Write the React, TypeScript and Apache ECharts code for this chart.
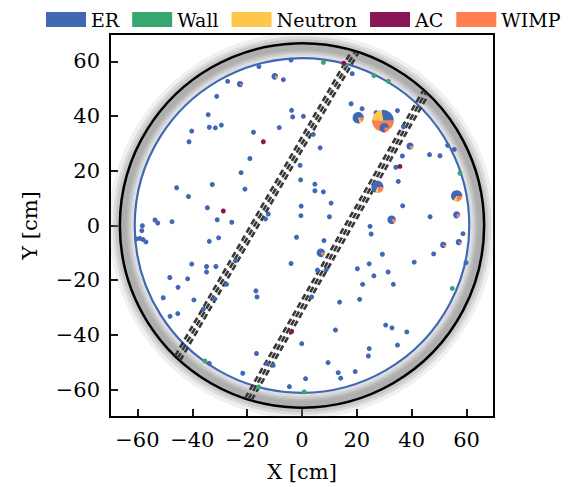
import React, { useEffect, useRef } from "react";
import * as echarts from "echarts";

// ---------- data ----------
const legendNames = ["ER", "Wall", "Neutron", "AC", "WIMP"];
const xTicks = [-60, -40, -20, 0, 20, 40, 60];
const yTicks = [-60, -40, -20, 0, 20, 40, 60];

const tpcRadius = 66.4;
const fiducialRadius = 61.0;

// perpendicular wires: angle (deg) and distance of each group from centre (cm)
const wireAngleDeg = 60;
const wireGroupOffsets = [15.0, -14.8];
const wireSubOffsets = [-1.2, 0, 1.2];

// wall-event cloud (read as radial layers, cm)
const bandInner = [60.6, 61.6, 62.5, 63.3, 64.0];
const bandOuter = [70.4, 69.0, 68.0, 67.0, 66.3];

const erPoints = [
  [-6.8, 53.3], [-27.1, 52.7], [-4.0, 60.5], [-15.7, 58.1], [-31.1, 47.2], [-3.8, 42.1], [-3.4, 39.7],
  [0.5, 39.9], [-34.2, 40.5], [-40.2, 34.5], [-33.8, 35.9], [-31.6, 35.7], [-29.4, 36.7], [-41.2, 30.6],
  [-17.7, 34.1], [-8.3, 35.8], [-19.0, 24.5], [-22.2, 19.3], [-0.7, 22.0], [-0.5, 16.7], [-32.7, 15.0],
  [-45.7, 13.8], [-20.8, 13.3], [-41.4, 10.6], [-34.5, 6.5], [-30.9, 2.1], [-25.6, 1.2], [-47.4, 1.4],
  [-53.6, 2.0], [-52.6, 0.9], [-58.2, -0.1], [-0.3, 7.1], [-0.4, 3.6], [-12.3, 4.2], [-13.3, 2.4],
  [-58.4, -1.9], [-60.3, -4.9], [-59.1, -4.7], [-58.0, -5.1], [-56.9, -6.0], [-33.8, -5.8], [-30.4, -4.5],
  [-2.0, -4.3], [-24.3, -12.9], [-4.0, -13.9], [-40.2, -14.1], [-34.8, -15.0], [-31.4, -15.0], [-34.8, -17.0],
  [-48.2, -19.0], [-41.7, -19.5], [-27.5, -21.5], [-45.2, -22.6], [-16.8, -23.9], [-16.4, -26.1], [-50.6, -26.4],
  [-39.4, -27.2], [-32.0, -26.7], [-36.0, -30.6], [-48.1, -33.2], [-45.3, -32.2], [-0.1, -43.2], [-16.6, -46.8],
  [-12.7, -50.5], [-10.5, -51.1], [-21.6, -54.0], [-4.6, -58.9], [-33.8, -50.4],
  [18.3, 55.5], [17.9, 44.5], [21.9, 42.7], [34.8, 42.0], [27.0, 41.2], [4.1, 33.3], [37.0, 36.1],
  [6.6, 28.4], [36.6, 25.4], [53.1, 29.3], [55.5, 27.8], [46.5, 25.9], [50.3, 25.5], [34.2, 21.3],
  [35.1, 16.1], [4.7, 15.1], [4.7, 12.7], [7.8, 12.3], [10.6, 8.2], [36.7, 7.2], [10.0, 3.2], [46.7, 3.2],
  [24.8, -0.3], [25.2, -3.1], [8.0, -5.5], [29.3, -10.5], [48.0, -10.4], [58.7, -3.0], [59.8, -13.6],
  [40.9, -13.4], [24.5, -14.0], [20.2, -15.8], [31.4, -17.0], [5.6, -16.3], [8.8, -16.2], [26.2, -18.4],
  [22.1, -21.5], [33.3, -21.5], [3.5, -26.1], [21.0, -27.0], [13.7, -28.0], [30.5, -36.4], [32.8, -37.4],
  [38.2, -38.9], [12.2, -38.2], [34.8, -43.7], [24.5, -45.0], [24.2, -47.7], [9.5, -50.1], [13.2, -53.8],
  [19.4, -53.4], [14.1, -55.8], [1.3, -56.0],
];

const wallPoints = [
  [7.8, 59.6], [15.7, 58.7], [26.2, 54.8], [31.5, 52.7], [57.6, 19.1], [54.8, -23.0],
  [-15.8, -59.0], [0.8, -60.8], [-35.4, -49.5],
];

const acPoints = [[-14.1, 30.6], [-28.7, 5.3], [35.7, 21.6], [-3.8, -38.8], [15.2, 59.3]];

// events with mixed classification (pie markers)
const pieX = [29.5, 30.0, 20.5, 27.5, 56.4, 32.7, 6.9, 56.4, 39.4, -9.9, 51.5, 57.2, -22.6];
const pieY = [38.3, 35.7, 39.4, 14.1, 10.8, 2.1, -10.0, 3.9, 29.0, 54.5, -7.1, -6.1, 51.7];
const pieER = [0.27, 0.78, 0.8, 0.7, 0.65, 0.85, 0.85, 0.8, 0.8, 0.85, 0.85, 0.85, 0.9];
const pieNeutron = [0.22, 0.0, 0.07, 0.08, 0.1, 0.0, 0.0, 0.0, 0.0, 0.05, 0.0, 0.0, 0.0];
const pieWIMP = [0.51, 0.22, 0.13, 0.22, 0.25, 0.15, 0.15, 0.2, 0.2, 0.1, 0.15, 0.15, 0.1];
const pieWeight = [19, 3.6, 5.2, 6, 5.2, 3, 3, 2.1, 2.1, 1.8, 1.6, 1.6, 1.6];

// ---------- styles ----------
const COLORS: Record<string, string> = {
  ER: "#4268b4",
  Wall: "#37a76f",
  Neutron: "#ffc64c",
  AC: "#8a1755",
  WIMP: "#ff7f4e",
};
const FONT = "DejaVu Serif";
const DOT = 5;

const minus = (v: number) => String(v).replace("-", "\u2212");

export default function App() {
  const ref = useRef<HTMLDivElement>(null);

  useEffect(() => {
    if (!ref.current) return;
    const chart = echarts.init(ref.current, undefined, { renderer: "svg" });

    const th = (wireAngleDeg * Math.PI) / 180;
    const dir = [Math.cos(th), Math.sin(th)];
    const nrm = [-Math.sin(th), Math.cos(th)];
    const wireData: number[][] = [];
    wireGroupOffsets.forEach((d0) => {
      wireSubOffsets.forEach((s) => {
        const d = d0 + s;
        const L = Math.sqrt(tpcRadius * tpcRadius - d * d);
        const c = [nrm[0] * d, nrm[1] * d];
        wireData.push([c[0] - dir[0] * L, c[1] - dir[1] * L, c[0] + dir[0] * L, c[1] + dir[1] * L]);
      });
    });

    const bandAlpha = [0.12, 0.18, 0.22, 0.25, 0.2];

    const pieData = pieX.map((x, i) => [x, pieY[i], pieER[i], pieNeutron[i], pieWIMP[i], pieWeight[i]]);

    const scatterBase = { type: "scatter", z: 4, symbolSize: DOT };

    chart.setOption({
      animation: false,
      textStyle: { fontFamily: FONT },
      legend: {
        data: legendNames,
        top: 10,
        left: 46,
        width: 523,
        padding: 0,
        icon: "rect",
        itemWidth: 40,
        itemHeight: 15,
        itemGap: 13,
        selectedMode: false,
        textStyle: { fontFamily: FONT, fontSize: 19, color: "#000" },
      },
      grid: {
        left: 110,
        top: 34,
        width: 384,
        height: 385,
        show: true,
        borderColor: "#000",
        borderWidth: 2,
        backgroundColor: "transparent",
      },
      xAxis: {
        type: "value",
        min: -70,
        max: 70,
        name: "X [cm]",
        nameLocation: "middle",
        nameGap: 44,
        nameTextStyle: { fontFamily: FONT, fontSize: 21, color: "#000" },
        axisLine: { show: true, onZero: false, lineStyle: { color: "#000", width: 2 } },
        axisTick: { show: true, inside: true, length: 8, lineStyle: { color: "#000", width: 1.8 }, customValues: xTicks },
        axisLabel: { customValues: xTicks, formatter: minus, fontFamily: FONT, fontSize: 21, color: "#000", margin: 12 },
        splitLine: { show: false },
      },
      yAxis: {
        type: "value",
        min: -70,
        max: 70,
        name: "Y [cm]",
        nameLocation: "middle",
        nameGap: 70,
        nameTextStyle: { fontFamily: FONT, fontSize: 21, color: "#000" },
        axisLine: { show: true, onZero: false, lineStyle: { color: "#000", width: 2 } },
        axisTick: { show: true, inside: true, length: 8, lineStyle: { color: "#000", width: 1.8 }, customValues: yTicks },
        axisLabel: { customValues: yTicks, formatter: minus, fontFamily: FONT, fontSize: 21, color: "#000", margin: 10 },
        splitLine: { show: false },
      },
      series: [
        {
          type: "custom",
          name: "band",
          clip: true,
          silent: true,
          z: 1,
          encode: { x: 0, y: 1 },
          data: bandInner.map((r0, i) => [0, 0, r0, bandOuter[i], i]),
          renderItem: (_p: any, api: any) => {
            const c = api.coord([api.value(0), api.value(1)]);
            const r0 = api.size([api.value(2), 0])[0];
            const r = api.size([api.value(3), 0])[0];
            return {
              type: "ring",
              shape: { cx: c[0], cy: c[1], r, r0 },
              style: { fill: `rgba(135,135,135,${bandAlpha[api.value(4)]})` },
            };
          },
        },
        {
          type: "custom",
          name: "circles",
          silent: true,
          z: 2,
          encode: { x: 0, y: 1 },
          data: [[0, 0, tpcRadius, 0], [0, 0, fiducialRadius, 1]],
          renderItem: (_p: any, api: any) => {
            const c = api.coord([api.value(0), api.value(1)]);
            const r = api.size([api.value(2), 0])[0];
            const blue = api.value(3) === 1;
            return {
              type: "circle",
              shape: { cx: c[0], cy: c[1], r },
              style: { fill: "none", stroke: blue ? COLORS.ER : "#000", lineWidth: blue ? 2.2 : 2.5 },
            };
          },
        },
        {
          type: "custom",
          name: "wires",
          silent: true,
          z: 3,
          encode: { x: [0, 2], y: [1, 3] },
          data: wireData,
          renderItem: (_p: any, api: any) => {
            const a = api.coord([api.value(0), api.value(1)]);
            const b = api.coord([api.value(2), api.value(3)]);
            return {
              type: "line",
              shape: { x1: a[0], y1: a[1], x2: b[0], y2: b[1] },
              style: { stroke: "#383838", lineWidth: 2.6, lineDash: [6, 3.5] },
            };
          },
        },
        { ...scatterBase, name: "ER", itemStyle: { color: COLORS.ER, opacity: 1 }, data: erPoints },
        { ...scatterBase, name: "Wall", itemStyle: { color: COLORS.Wall, opacity: 1 }, data: wallPoints },
        { ...scatterBase, name: "Neutron", itemStyle: { color: COLORS.Neutron, opacity: 1 }, data: [] },
        { ...scatterBase, name: "AC", itemStyle: { color: COLORS.AC, opacity: 1 }, data: acPoints },
        { ...scatterBase, name: "WIMP", itemStyle: { color: COLORS.WIMP, opacity: 1 }, data: [] },
        {
          type: "custom",
          name: "pies",
          z: 5,
          encode: { x: 0, y: 1 },
          data: pieData,
          renderItem: (_p: any, api: any) => {
            const c = api.coord([api.value(0), api.value(1)]);
            const parts = [
              [api.value(2), COLORS.ER],
              [api.value(3), COLORS.Neutron],
              [api.value(4), COLORS.WIMP],
            ] as [number, string][];
            const total = parts.reduce((s, p) => s + p[0], 0);
            const r = (DOT / 2) * Math.sqrt(api.value(5));
            let a = 0;
            const children: any[] = [];
            parts.forEach(([f, col]) => {
              if (f <= 0) return;
              const da = (f / total) * Math.PI * 2;
              children.push({
                type: "sector",
                shape: { cx: c[0], cy: c[1], r0: 0, r, startAngle: -a, endAngle: -(a + da), clockwise: false },
                style: { fill: col },
              });
              a += da;
            });
            return { type: "group", children };
          },
        },
      ],
    });

    return () => chart.dispose();
  }, []);

  return (
    <div
      ref={ref}
      style={{ position: "absolute", left: 0, top: 0, width: 569, height: 487, background: "#fff" }}
    />
  );
}
